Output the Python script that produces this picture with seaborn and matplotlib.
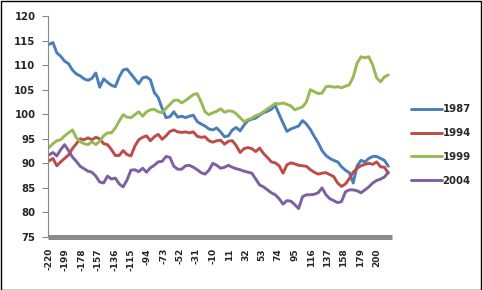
import matplotlib
matplotlib.use("Agg")
import matplotlib.pyplot as plt
import seaborn as sns
import pandas as pd
import numpy as np
from matplotlib.patches import Rectangle
from matplotlib.lines import Line2D

x_values = list(range(-220, 216, 5))

s1987 = [114.2, 114.6, 112.5, 111.8, 110.8, 110.3, 109.0, 108.2, 107.8, 107.2,
         106.9, 107.3, 108.4, 105.5, 107.2, 106.5, 105.9, 105.6, 107.6, 109.0,
         109.2, 108.2, 107.2, 106.2, 107.4, 107.6, 107.0, 104.4, 103.4, 101.2,
         99.3, 99.5, 100.5, 99.4, 99.6, 99.3, 99.6, 99.8, 98.5, 98.0,
         97.6, 97.0, 96.8, 97.2, 96.4, 95.4, 95.6, 96.8, 97.3, 96.6,
         97.8, 98.7, 99.0, 99.2, 99.8, 100.3, 100.6, 101.0, 101.8, 100.0,
         98.2, 96.5, 97.0, 97.3, 97.6, 98.7, 98.0, 96.9, 95.5, 94.2,
         92.6, 91.6, 91.0, 90.6, 90.3, 89.3, 88.6, 88.1, 86.0, 89.5,
         90.6, 90.3, 91.0, 91.4, 91.4, 91.0, 90.6, 89.4]

s1994 = [90.5, 91.0, 89.5, 90.3, 91.0, 91.7, 93.0, 94.0, 95.0, 94.8,
         95.2, 94.8, 95.3, 95.0, 94.0, 93.8, 92.8, 91.6, 91.6, 92.6,
         91.8, 91.5, 93.5, 94.8, 95.3, 95.6, 94.6, 95.4, 95.9, 94.9,
         95.6, 96.5, 96.8, 96.4, 96.3, 96.4, 96.2, 96.4, 95.5, 95.3,
         95.4, 94.6, 94.3, 94.6, 94.7, 93.9, 94.5, 94.6, 93.6, 92.2,
         93.0, 93.2, 93.0, 92.4, 93.1, 92.0, 91.2, 90.3, 90.1, 89.5,
         88.0, 89.7, 90.1, 89.9, 89.6, 89.5, 89.4, 88.7, 88.2, 87.8,
         88.0, 88.1, 87.7, 87.3, 86.0, 85.3, 85.8, 86.9, 88.2, 89.0,
         89.5, 89.8, 90.0, 89.8, 90.3, 89.3, 89.2, 88.0]

s1999 = [93.2, 94.0, 94.6, 94.8, 95.6, 96.2, 96.8, 95.2, 94.4, 94.0,
         93.8, 94.4, 93.8, 94.5, 95.6, 96.2, 96.2, 97.2, 98.6, 99.9,
         99.4, 99.3, 99.9, 100.5, 99.6, 100.5, 100.9, 101.0, 100.5, 100.3,
         101.2, 102.0, 102.8, 102.9, 102.3, 102.8, 103.4, 104.0, 104.2, 102.5,
         100.5, 99.9, 100.3, 100.6, 101.1, 100.4, 100.7, 100.6, 100.1, 99.3,
         98.5, 98.9, 99.2, 99.7, 100.0, 100.5, 101.1, 101.6, 102.2, 102.1,
         102.3, 102.0, 101.7, 100.9, 101.2, 101.5, 102.5, 105.0, 104.6, 104.2,
         104.3, 105.6, 105.7, 105.5, 105.6, 105.4, 105.7, 106.0, 107.6, 110.4,
         111.7, 111.5, 111.7, 110.0, 107.4, 106.6, 107.6, 108.0]

s2004 = [91.7, 92.2, 91.5, 92.8, 93.8, 92.6, 91.3, 90.4, 89.4, 88.9,
         88.4, 88.2, 87.4, 86.2, 86.0, 87.4, 86.8, 87.0, 85.8, 85.2,
         86.6, 88.6, 88.7, 88.3, 89.0, 88.2, 89.1, 89.6, 90.3, 90.4,
         91.4, 91.2, 89.4, 88.8, 88.8, 89.5, 89.6, 89.2, 88.7, 88.1,
         87.8, 88.6, 90.0, 89.6, 89.0, 89.2, 89.6, 89.2, 88.9, 88.7,
         88.4, 88.2, 88.0, 86.8, 85.6, 85.2, 84.6, 84.0, 83.6, 82.8,
         81.7, 82.4, 82.3, 81.6, 80.8, 83.2, 83.6, 83.6, 83.7, 84.0,
         85.0, 83.6, 82.8, 82.4, 82.0, 82.2, 84.2, 84.6, 84.6, 84.4,
         84.0, 84.6, 85.2, 86.0, 86.5, 86.8, 87.2, 88.2]

series_names = ["1987", "1994", "1999", "2004"]
series_colors = ["#4A7EBB", "#BE4B48", "#98B954", "#7D60A0"]
xtick_values = [-220, -199, -178, -157, -136, -115, -94, -73, -52, -31, -10,
                11, 32, 53, 74, 95, 116, 137, 158, 179, 200]
ytick_values = [75, 80, 85, 90, 95, 100, 105, 110, 115, 120]

frames = []
for name, vals in zip(series_names, [s1987, s1994, s1999, s2004]):
    frames.append(pd.DataFrame({"x": x_values, "value": vals, "series": name}))
df = pd.concat(frames, ignore_index=True)

sns.set_style("white")
plt.rcParams["font.family"] = ["DejaVu Sans"]

fig = plt.figure(figsize=(4.82, 2.90), dpi=100)
ax = fig.add_axes([48 / 482, 53 / 290, 344 / 482, 221 / 290])

sns.lineplot(data=df, x="x", y="value", hue="series", hue_order=series_names,
             palette=series_colors, linewidth=2.1, ax=ax, legend=False)

ax.set_xlim(-221.3, 219.7)
ax.set_ylim(75, 120)
ax.set_xticks(xtick_values)
ax.set_xticklabels([str(v) for v in xtick_values], rotation=90,
                   fontsize=6.5, fontweight="bold")
ax.set_yticks(ytick_values)
ax.set_yticklabels([str(v) for v in ytick_values], fontsize=7.3,
                   fontweight="bold")
ax.set_xlabel("")
ax.set_ylabel("")
ax.tick_params(axis="y", direction="out", length=4, width=0.8, color="#888888",
               pad=5, left=True)
ax.tick_params(axis="x", length=0, pad=8)

for side in ["top", "right"]:
    ax.spines[side].set_visible(False)
ax.spines["left"].set_color("#888888")
ax.spines["left"].set_linewidth(0.8)
ax.spines["bottom"].set_color("#8A8A8A")
ax.spines["bottom"].set_linewidth(3.6)
ax.spines["bottom"].set_capstyle("butt")

handles = [Line2D([0], [0], color=c, lw=2.1) for c in series_colors]
fig.legend(handles, series_names, loc="center left",
           bbox_to_anchor=(402 / 482, 1 - 145 / 290), frameon=False,
           prop={"size": 7.3, "weight": "bold"}, handlelength=3.0,
           handletextpad=0.1, labelspacing=1.35)

fig.patches.append(Rectangle((0.5 / 482, 0.5 / 290), 480.5 / 482, 288.5 / 290,
                             transform=fig.transFigure, fill=False,
                             edgecolor="black", linewidth=1.0))

fig.savefig("out.png", dpi=100)
